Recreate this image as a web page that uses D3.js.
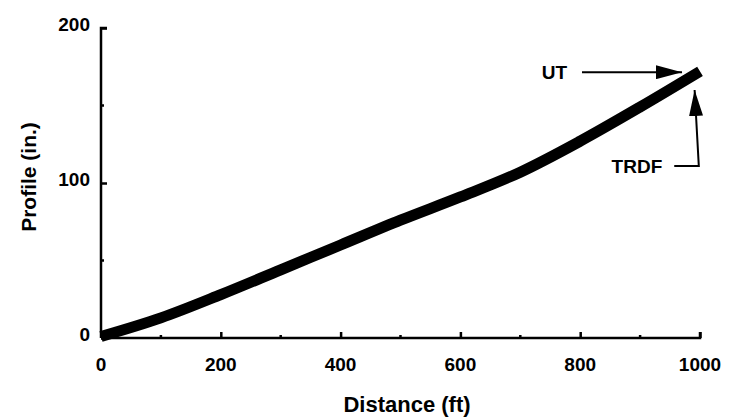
<!DOCTYPE html>
<html>
<head>
<meta charset="utf-8">
<script src="https://cdn.jsdelivr.net/npm/d3@7"></script>
<style>
  html, body { margin: 0; padding: 0; background: #fff; }
  svg { display: block; font-family: "Liberation Sans", Arial, sans-serif; }
</style>
</head>
<body>
<svg id="chart" width="737" height="417"></svg>
<script>
// Profile along the section, distance in feet vs profile in inches
const distance = [0, 100, 200, 300, 400, 500, 600, 700, 800, 900, 1000];
const profile  = [1, 13, 28, 44, 60, 76, 91, 107, 127, 149, 172];

const xMajorTicks = [0, 200, 400, 600, 800, 1000];
const xMinorTicks = [100, 300, 500, 700, 900];
const yMajorTicks = [0, 100, 200];
const yMinorTicks = [50, 150];

// Callout labels and their leader arrows, in data units
const utLabel   = { text: "UT",   x: 778, y: 171.5 };
const utArrow   = [[803, 171.5], [970, 171.5]];
const trdfLabel = { text: "TRDF", x: 937, y: 111 };
const trdfArrow = [[957, 111], [998, 111], [991, 160]];

const svg = d3.select("#chart");
const x = d3.scaleLinear().domain([0, 1000]).range([101, 700]);
const y = d3.scaleLinear().domain([0, 200]).range([338, 28]);

const defs = svg.append("defs");
defs.append("marker")
  .attr("id", "head")
  .attr("viewBox", "0 0 26 14")
  .attr("refX", 26).attr("refY", 7)
  .attr("markerWidth", 26).attr("markerHeight", 14)
  .attr("markerUnits", "userSpaceOnUse")
  .attr("orient", "auto")
  .append("path").attr("d", "M0,0 L26,7 L0,14 Z").attr("fill", "#000");

// Axes: ticks point into the plot
const xAxis = svg.append("g").attr("transform", `translate(0,${y(0)})`)
  .call(d3.axisBottom(x).tickValues(xMajorTicks).tickSize(-6).tickFormat(""));
xAxis.append("g").selectAll("line").data(xMinorTicks).join("line")
  .attr("x1", d => x(d)).attr("x2", d => x(d)).attr("y1", 0).attr("y2", -3)
  .attr("stroke", "#000").attr("stroke-width", 2.5);

const yAxis = svg.append("g").attr("transform", `translate(${x(0)},0)`)
  .call(d3.axisLeft(y).tickValues(yMajorTicks).tickSize(-6).tickFormat(""));
yAxis.append("g").selectAll("line").data(yMinorTicks).join("line")
  .attr("y1", d => y(d)).attr("y2", d => y(d)).attr("x1", 0).attr("x2", 3)
  .attr("stroke", "#000").attr("stroke-width", 2.5);

svg.selectAll(".domain").attr("stroke", "#000").attr("stroke-width", 2.5);
svg.selectAll(".tick line").attr("stroke", "#000").attr("stroke-width", 2.5);
// plain axis lines, with a short stub at the far end of each
xAxis.select(".domain").attr("d", `M${x(0)},0H${x(1000)}V-6`);
yAxis.select(".domain").attr("d", `M6,${y(200)}H0V${y(0)}`);

// Tick labels
svg.append("g").selectAll("text").data(xMajorTicks).join("text")
  .attr("x", d => x(d)).attr("y", 371)
  .attr("text-anchor", "middle")
  .attr("font-size", 19).attr("font-weight", "bold")
  .text(d => d);

svg.append("g").selectAll("text").data(yMajorTicks).join("text")
  .attr("x", 90).attr("y", d => y(d) + 3)
  .attr("text-anchor", "end")
  .attr("font-size", 19).attr("font-weight", "bold")
  .text(d => d);

// Axis titles
svg.append("text")
  .attr("x", 407).attr("y", 412)
  .attr("text-anchor", "middle")
  .attr("font-size", 22).attr("font-weight", "bold")
  .text("Distance (ft)");

svg.append("text")
  .attr("transform", "translate(36,177) rotate(-90)")
  .attr("text-anchor", "middle")
  .attr("font-size", 21).attr("font-weight", "bold")
  .text("Profile (in.)");

// Profile line
const line = d3.line().x(d => x(d)).y((d, i) => y(profile[i])).curve(d3.curveCatmullRom);
svg.append("path")
  .attr("d", line(distance))
  .attr("fill", "none")
  .attr("stroke", "#000")
  .attr("stroke-width", 11)
  .attr("stroke-linejoin", "round");

// Callouts
const pt = d3.line().x(d => x(d[0])).y(d => y(d[1]));
[utArrow, trdfArrow].forEach(a => {
  svg.append("path").attr("d", pt(a))
    .attr("fill", "none").attr("stroke", "#000").attr("stroke-width", 2)
    .attr("marker-end", "url(#head)");
});
[utLabel, trdfLabel].forEach(l => {
  svg.append("text")
    .attr("x", x(l.x)).attr("y", y(l.y) + 7)
    .attr("text-anchor", "end")
    .attr("font-size", 19).attr("font-weight", "bold")
    .text(l.text);
});
</script>
</body>
</html>
